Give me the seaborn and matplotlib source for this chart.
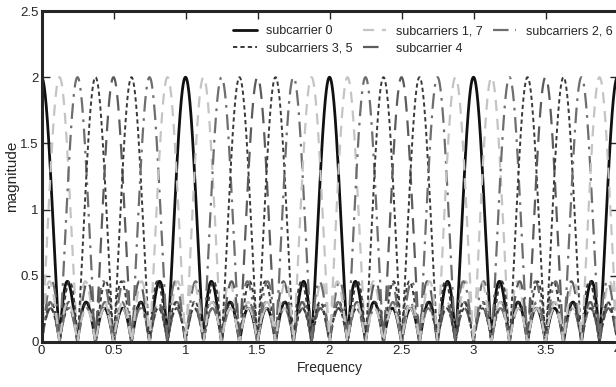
import numpy as np
import pandas as pd
import seaborn as sns
import matplotlib
matplotlib.use("Agg")
import matplotlib.pyplot as plt

# OFDM subcarrier spectra:
# 8 subcarriers, peak magnitude 2, frequency axis 0..4 (period 1)
n_sub = 8
peak = 2.0
subcarriers = [0, 1, 2, 3, 4, 5, 6, 7]
labels = ["subcarrier 0", "subcarriers 1, 7", "subcarriers 2, 6",
          "subcarriers 3, 5", "subcarrier 4", "subcarriers 3, 5",
          "subcarriers 2, 6", "subcarriers 1, 7"]
f_min, f_max = 0.0, 4.0
xticks = [0, 0.5, 1, 1.5, 2, 2.5, 3, 3.5, 4]
xticklabels = ["0", "0.5", "1", "1.5", "2", "2.5", "3", "3.5", "4"]
yticks = [0, 0.5, 1, 1.5, 2, 2.5]
yticklabels = ["0", "0.5", "1", "1.5", "2", "2.5"]

styles = {
    "subcarrier 0": dict(color="#111111", ls="-", lw=2.0),
    "subcarriers 1, 7": dict(color="#c4c4c4", ls=(0, (5, 3.5)), lw=1.6),
    "subcarriers 2, 6": dict(color="#6e6e6e", ls=(0, (7, 3, 1.2, 3)), lw=1.6),
    "subcarriers 3, 5": dict(color="#3a3a3a", ls=(0, (2.2, 1.6)), lw=1.4),
    "subcarrier 4": dict(color="#5c5c5c", ls=(0, (7, 4)), lw=1.6),
}

freq = np.linspace(f_min, f_max, 4001)
rows = []
for k, lab in zip(subcarriers, labels):
    d = freq - k / n_sub
    s = np.sin(np.pi * d)
    with np.errstate(divide="ignore", invalid="ignore"):
        mag = np.abs(np.sin(n_sub * np.pi * d) / (n_sub * s))
    mag[np.isclose(s, 0)] = 1.0
    rows.append(pd.DataFrame({"freq": freq, "mag": peak * mag, "sub": k, "label": lab}))
df = pd.concat(rows)

sns.set_style("ticks")
plt.rcParams["font.family"] = ["Liberation Sans", "DejaVu Sans"]
plt.rcParams["xtick.direction"] = "in"
plt.rcParams["ytick.direction"] = "in"

W, H = 616, 387
fig = plt.figure(figsize=(W / 100, H / 100), dpi=100)
ax = fig.add_axes([41.5 / W, 1 - 342 / H, 576 / W, 331 / H])

seen = {}
for k, lab in zip(subcarriers, labels):
    st = styles[lab]
    sns.lineplot(data=df[df["sub"] == k], x="freq", y="mag", ax=ax,
                 color=st["color"], linestyle=st["ls"], linewidth=st["lw"],
                 estimator=None, sort=False, legend=False)
    seen.setdefault(lab, ax.lines[-1])

order = ["subcarrier 0", "subcarriers 3, 5", "subcarriers 1, 7",
         "subcarrier 4", "subcarriers 2, 6"]
fig.legend([seen[l] for l in order], order, ncol=3, frameon=False,
           loc="upper left", bbox_to_anchor=(233 / W, 1 - 25 / H), fontsize=9,
           handlelength=1.9, handletextpad=0.75, columnspacing=0.8,
           labelspacing=0.45, borderpad=0, borderaxespad=0)

ax.set_xlim(f_min, f_max)
ax.set_ylim(0, 2.5)
ax.set_xticks(xticks)
ax.set_xticklabels(xticklabels)
ax.set_yticks(yticks)
ax.set_yticklabels(yticklabels)
ax.tick_params(labelsize=9.5, top=True, right=True, length=6, width=1, pad=2)
ax.set_xlabel("Frequency", fontsize=10, labelpad=3)
ax.set_ylabel("magnitude", fontsize=11, labelpad=1)
for sp in ax.spines.values():
    sp.set_linewidth(2.2)

fig.savefig("out.png", dpi=100)
